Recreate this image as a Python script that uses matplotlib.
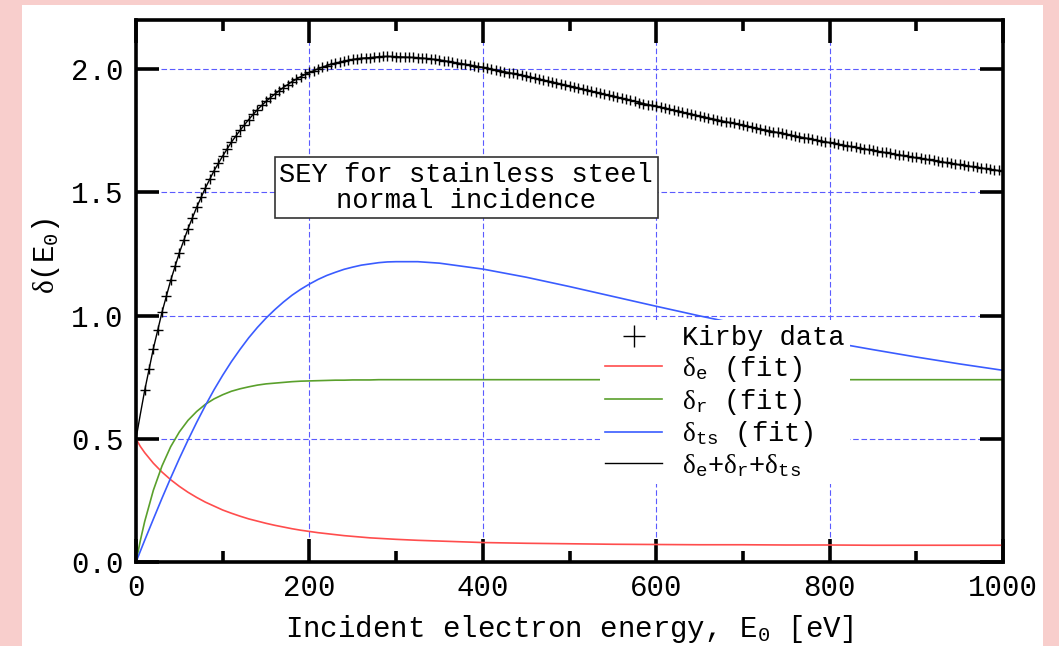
import numpy as np
import matplotlib.pyplot as plt
from matplotlib.patches import Rectangle
from matplotlib.ticker import MultipleLocator

plt.rcParams['font.family'] = ['Liberation Mono', 'DejaVu Sans']
plt.rcParams['mathtext.fontset'] = 'custom'
plt.rcParams['mathtext.rm'] = 'Liberation Serif'
plt.rcParams['mathtext.tt'] = 'Liberation Mono'
plt.rcParams['mathtext.default'] = 'rm'

# fit curves
energy_fit = [0, 5, 10, 20, 30, 40, 50, 60, 70, 80, 90, 100, 110, 120, 130, 140, 150,
              160, 170, 180, 190, 200, 210, 220, 230, 240, 250, 260, 270, 280, 290, 300,
              325, 350, 400, 450, 500, 550, 600, 650, 700, 750, 800, 850, 900, 950, 1000]
delta_e = [0.500, 0.469, 0.444, 0.401, 0.365, 0.334, 0.307, 0.283, 0.262, 0.243, 0.227,
           0.211, 0.198, 0.186, 0.175, 0.166, 0.157, 0.149, 0.142, 0.135, 0.129, 0.124,
           0.119, 0.115, 0.111, 0.107, 0.104, 0.101, 0.098, 0.096, 0.094, 0.092, 0.088,
           0.085, 0.079, 0.076, 0.074, 0.072, 0.071, 0.070, 0.070, 0.069, 0.069, 0.068,
           0.068, 0.068, 0.068]
delta_r = [0.000, 0.087, 0.164, 0.291, 0.390, 0.468, 0.528, 0.575, 0.611, 0.640, 0.662,
           0.679, 0.693, 0.703, 0.711, 0.718, 0.723, 0.726, 0.729, 0.732, 0.734, 0.735,
           0.736, 0.737, 0.738, 0.738, 0.739, 0.739, 0.739, 0.740, 0.740, 0.740, 0.740,
           0.740, 0.740, 0.740, 0.740, 0.740, 0.740, 0.740, 0.740, 0.740, 0.740, 0.740,
           0.740, 0.740, 0.740]
delta_ts = [0.000, 0.044, 0.088, 0.174, 0.259, 0.341, 0.420, 0.495, 0.567, 0.635, 0.699,
            0.758, 0.813, 0.863, 0.910, 0.952, 0.990, 1.024, 1.055, 1.083, 1.107, 1.128,
            1.147, 1.163, 1.176, 1.188, 1.197, 1.205, 1.210, 1.215, 1.218, 1.219, 1.219,
            1.213, 1.189, 1.156, 1.118, 1.078, 1.038, 0.999, 0.962, 0.927, 0.893, 0.862,
            0.832, 0.804, 0.778]
delta_sum = [0.500, 0.600, 0.696, 0.866, 1.014, 1.143, 1.255, 1.353, 1.440, 1.518, 1.588,
             1.648, 1.704, 1.752, 1.796, 1.836, 1.870, 1.899, 1.926, 1.950, 1.970, 1.987,
             2.002, 2.015, 2.025, 2.033, 2.040, 2.045, 2.047, 2.051, 2.052, 2.051, 2.047,
             2.038, 2.008, 1.972, 1.932, 1.890, 1.849, 1.810, 1.772, 1.736, 1.702, 1.670,
             1.640, 1.612, 1.586]

# Kirby data, every 5 eV from 10 to 1000 eV
kirby_energy = np.arange(10, 1001, 5)
kirby_sey = [
    0.700, 0.784, 0.866, 0.942, 1.014, 1.081, 1.143, 1.201, 1.255, 1.306,
    1.353, 1.398, 1.440, 1.480, 1.518, 1.554, 1.588, 1.619, 1.648, 1.677,
    1.704, 1.729, 1.752, 1.775, 1.796, 1.817, 1.836, 1.854, 1.870, 1.885,
    1.899, 1.913, 1.926, 1.938, 1.950, 1.960, 1.970, 1.979, 1.987, 1.995,
    2.002, 2.009, 2.015, 2.020, 2.025, 2.029, 2.033, 2.037, 2.040, 2.043,
    2.045, 2.046, 2.047, 2.049, 2.051, 2.052, 2.052, 2.052, 2.051, 2.051,
    2.050, 2.049, 2.048, 2.047, 2.045, 2.044, 2.042, 2.040, 2.038, 2.035,
    2.032, 2.029, 2.026, 2.023, 2.020, 2.017, 2.014, 2.011, 2.008, 2.004,
    2.001, 1.997, 1.994, 1.990, 1.986, 1.983, 1.979, 1.976, 1.972, 1.968,
    1.964, 1.960, 1.956, 1.952, 1.948, 1.944, 1.940, 1.936, 1.932, 1.928,
    1.924, 1.919, 1.915, 1.911, 1.907, 1.903, 1.898, 1.894, 1.890, 1.886,
    1.882, 1.878, 1.874, 1.870, 1.865, 1.861, 1.857, 1.853, 1.849, 1.845,
    1.841, 1.837, 1.833, 1.829, 1.826, 1.822, 1.818, 1.814, 1.810, 1.806,
    1.802, 1.799, 1.795, 1.791, 1.787, 1.784, 1.780, 1.776, 1.772, 1.768,
    1.765, 1.761, 1.758, 1.754, 1.751, 1.747, 1.744, 1.740, 1.737, 1.734,
    1.730, 1.727, 1.723, 1.720, 1.717, 1.713, 1.710, 1.706, 1.703, 1.700,
    1.697, 1.694, 1.690, 1.687, 1.684, 1.681, 1.678, 1.675, 1.672, 1.669,
    1.666, 1.663, 1.660, 1.657, 1.654, 1.651, 1.648, 1.645, 1.642, 1.639,
    1.636, 1.634, 1.631, 1.628, 1.625, 1.622, 1.620, 1.617, 1.614, 1.611,
    1.609, 1.606, 1.604, 1.601, 1.598, 1.596, 1.593, 1.591, 1.588,
]

fig = plt.figure(figsize=(10.59, 6.46), dpi=100)
fig.patch.set_facecolor('#f8cecc')
fig.patches.append(Rectangle((22 / 1059, 0), (1043 - 22) / 1059, 1 - 5 / 646,
                             transform=fig.transFigure, fc='white', ec='none', zorder=-10))

ax = fig.add_axes([136 / 1059, 1 - 562 / 646, (1003 - 136) / 1059, (562 - 20) / 646])
ax.set_facecolor('white')

ax.plot(kirby_energy, kirby_sey, ls='none', marker='+', ms=7, mew=1.0, color='black',
        label='Kirby data', zorder=4)
ax.plot(energy_fit, delta_e, color='#ff4d4d', lw=1.2, label=r'$\delta_{\mathtt{e}}$ (fit)')
ax.plot(energy_fit, delta_r, color='#5aa02c', lw=1.2, label=r'$\delta_{\mathtt{r}}$ (fit)')
ax.plot(energy_fit, delta_ts, color='#3a5cff', lw=1.2, label=r'$\delta_{\mathtt{ts}}$ (fit)')
ax.plot(energy_fit, delta_sum, color='black', lw=1.0,
        label=r'$\delta_{\mathtt{e}}\mathtt{+}\delta_{\mathtt{r}}\mathtt{+}\delta_{\mathtt{ts}}$')

ax.set_xlim(0, 1000)
ax.set_ylim(0, 2.2)
ax.xaxis.set_major_locator(MultipleLocator(200))
ax.xaxis.set_minor_locator(MultipleLocator(100))
ax.yaxis.set_major_locator(MultipleLocator(0.5))
ax.yaxis.set_major_formatter(plt.FormatStrFormatter('%.1f'))

for s in ax.spines.values():
    s.set_linewidth(2.6)
ax.tick_params(which='both', direction='in', top=True, right=True, width=2.6,
               labelsize=21, pad=9)
ax.tick_params(which='major', length=16.5)
ax.tick_params(which='minor', length=8)
ax.grid(True, which='major', color='#5b5bff', lw=0.8, ls=(0, (5, 2.5)))
for gl in ax.get_xgridlines() + ax.get_ygridlines():
    gl.set_zorder(0.5)

ax.set_xlabel(r'Incident electron energy, E$_{\mathtt{0}}$ [eV]', fontsize=21)
ax.set_ylabel(r'$\delta$(E$_{\mathtt{0}}$)', fontsize=21)
ax.xaxis.set_label_coords(0.5, -0.095)
ax.yaxis.set_label_coords(-0.085, 0.565)

ax.text(381, 1.52, 'SEY for stainless steel\nnormal incidence', fontsize=19.5,
        ha='center', va='center', linespacing=1.0, zorder=6,
        bbox=dict(boxstyle='square,pad=0.18', fc='white', ec='#333333', lw=1.2))

leg = ax.legend(loc='upper left', bbox_to_anchor=(0.535, 0.447), fontsize=19.5,
                frameon=True, fancybox=False, framealpha=1, edgecolor='white',
                facecolor='white', handlelength=2.1, handletextpad=0.75,
                labelspacing=0.1, borderpad=0.2, borderaxespad=0, markerscale=2.2)
leg.set_zorder(5)
leg.get_frame().set_linewidth(0)

plt.savefig('out.png', dpi=100, facecolor=fig.get_facecolor())
